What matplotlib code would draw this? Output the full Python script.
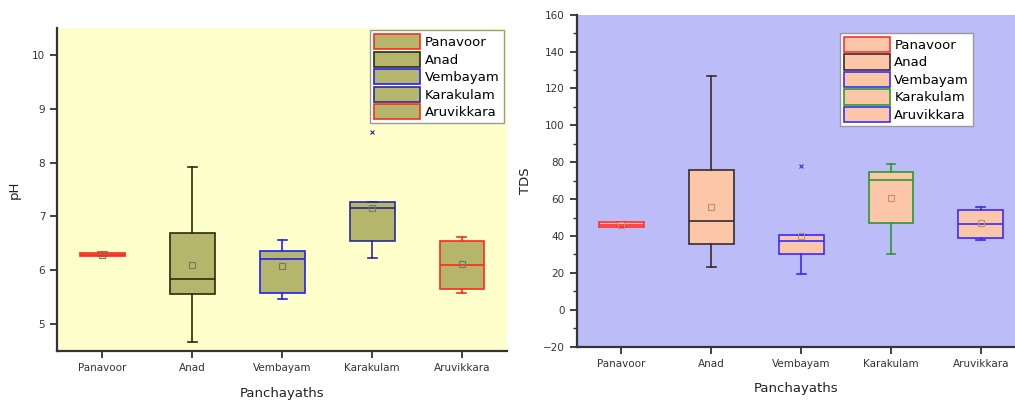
import matplotlib.pyplot as plt
from matplotlib.patches import Patch

# categories
panchayaths = ["Panavoor", "Anad", "Vembayam", "Karakulam", "Aruvikkara"]

# pH box statistics
ph_whislo = [6.26, 4.67, 5.47, 6.23, 5.58]
ph_q1 = [6.26, 5.55, 5.58, 6.55, 5.65]
ph_med = [6.29, 5.84, 6.20, 7.15, 6.10]
ph_q3 = [6.32, 6.69, 6.36, 7.27, 6.54]
ph_whishi = [6.33, 7.91, 6.56, 7.27, 6.62]
ph_mean = [6.29, 6.10, 6.07, 7.16, 6.12]
ph_fliers = [[], [], [], [8.57], []]
ph_edges = ["#ff2a1a", "#2b2b10", "#2020ff", "#2a2a9a", "#ff2a1a"]

# TDS box statistics
tds_whislo = [44.8, 23.1, 19.6, 30.5, 37.8]
tds_q1 = [44.8, 35.6, 30.0, 47.0, 39.0]
tds_med = [46.0, 47.9, 37.4, 70.5, 46.4]
tds_q3 = [47.5, 75.9, 40.8, 74.6, 54.0]
tds_whishi = [47.8, 126.9, 40.8, 78.8, 55.6]
tds_mean = [46.0, 55.6, 40.1, 60.5, 47.0]
tds_fliers = [[], [], [77.7], [], []]
tds_edges = ["#ff3030", "#3a2a2a", "#3a2aff", "#2a9a2a", "#3a2aff"]


def make_stats(lo, q1, med, q3, hi, mean, fliers):
    return [dict(whislo=a, q1=b, med=c, q3=d, whishi=e, mean=f, fliers=g)
            for a, b, c, d, e, f, g in zip(lo, q1, med, q3, hi, mean, fliers)]


def draw_panel(ax, stats, edges, fill, bg, mean_col, ylabel, loc_box):
    ax.set_facecolor(bg)
    positions = list(range(1, len(stats) + 1))
    for pos, st, ec in zip(positions, stats, edges):
        ax.bxp([st], positions=[pos], widths=0.5, patch_artist=True,
               showmeans=True, showfliers=True, capwidths=0.1,
               boxprops=dict(facecolor=fill, edgecolor=ec, linewidth=1.2),
               medianprops=dict(color=ec, linewidth=1.2),
               whiskerprops=dict(color=ec, linewidth=1.2),
               capprops=dict(color=ec, linewidth=1.2),
               meanprops=dict(marker="s", markersize=4, markerfacecolor="none",
                              markeredgecolor=mean_col, markeredgewidth=0.8),
               flierprops=dict(marker="x", markersize=3.5, markeredgecolor=ec,
                               markeredgewidth=0.8))
    ax.set_xticks(positions)
    ax.set_xticklabels(panchayaths, fontsize=7.5, color="#333333")
    ax.tick_params(axis="y", labelsize=7.5, labelcolor="#333333")
    ax.tick_params(direction="out", length=5, width=1.3, color="#333333")
    for s in ("top", "right"):
        ax.spines[s].set_visible(False)
    for s in ("left", "bottom"):
        ax.spines[s].set_linewidth(1.6)
        ax.spines[s].set_color("#333333")
    ax.set_xlabel("Panchayaths", fontsize=9.5, color="#222222", labelpad=10)
    ax.set_ylabel(ylabel, fontsize=9.5, color="#222222", labelpad=8)
    handles = [Patch(facecolor=fill, edgecolor=ec, linewidth=1.2) for ec in edges]
    leg = ax.legend(handles, panchayaths, loc="upper left", bbox_to_anchor=loc_box,
                    fontsize=9.5, frameon=True, fancybox=False, handlelength=3.5,
                    handleheight=1.4, handletextpad=0.35, labelspacing=0.17,
                    borderpad=0.3, borderaxespad=0)
    leg.get_frame().set_edgecolor("#999999")
    leg.get_frame().set_linewidth(1.0)
    leg.get_frame().set_facecolor("white")
    leg.get_frame().set_alpha(1)


fig = plt.figure(figsize=(10.15, 4.03), dpi=100)

ax1 = fig.add_axes([0.0562, 0.129, 0.4433, 0.8015])
draw_panel(ax1, make_stats(ph_whislo, ph_q1, ph_med, ph_q3, ph_whishi, ph_mean, ph_fliers),
           ph_edges, "#b5b56b", "#ffffcc", "#777766", "pH", (0.696, 0.993))
ax1.set_xlim(0.5, 5.5)
ax1.set_ylim(4.5, 10.5)
ax1.set_yticks([5, 6, 7, 8, 9, 10])

ax2 = fig.add_axes([0.568, 0.1397, 0.432, 0.824])
draw_panel(ax2, make_stats(tds_whislo, tds_q1, tds_med, tds_q3, tds_whishi, tds_mean, tds_fliers),
           tds_edges, "#fcc6a8", "#bcbcf9", "#c09070", "TDS", (0.6, 0.945))
ax2.set_xlim(0.5, 5.38)
ax2.set_ylim(-20, 160)
ax2.set_yticks(range(-20, 161, 20))
ax2.set_yticks(range(-20, 161, 10), minor=True)
ax2.tick_params(axis="y", which="minor", direction="out", length=3, width=1.0, color="#333333")

fig.savefig("out.png", dpi=100)
